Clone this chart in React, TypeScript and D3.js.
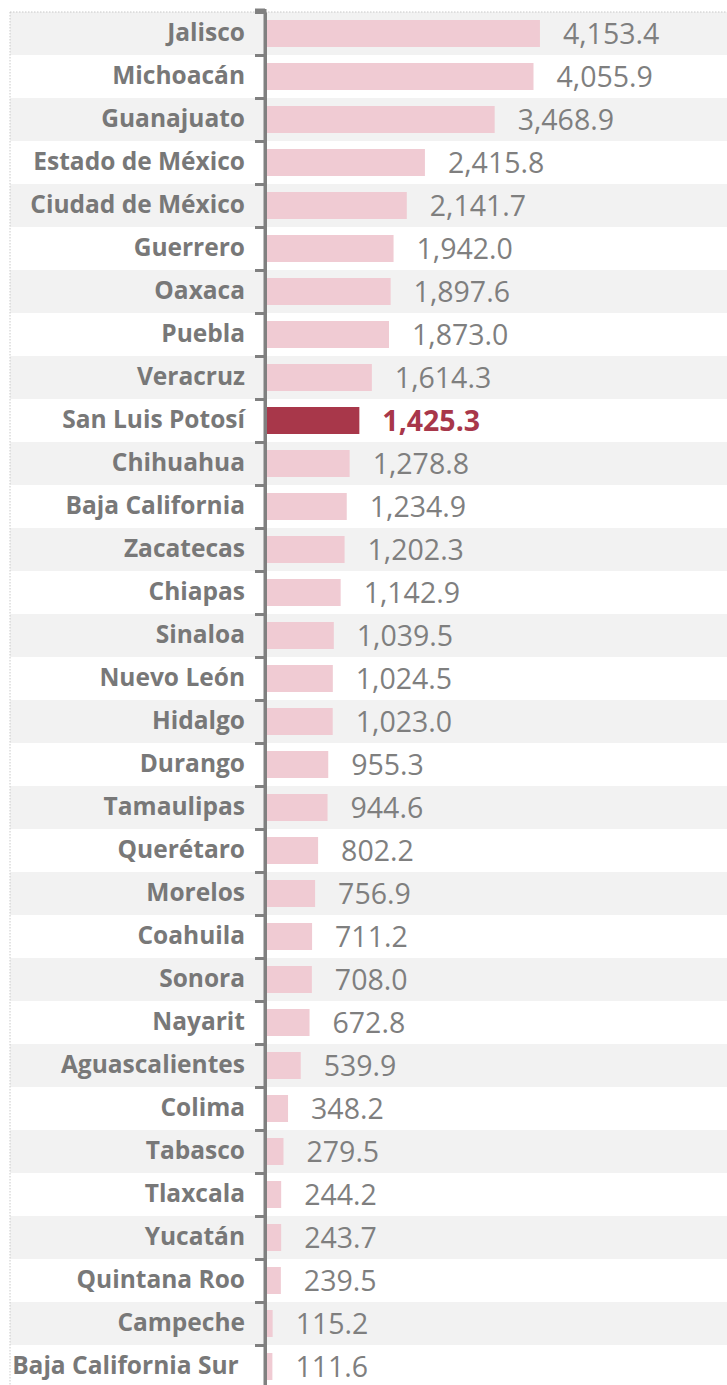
import React, { useEffect, useRef } from "react";
import * as d3 from "d3";

const estados = [
  "Jalisco", "Michoacán", "Guanajuato", "Estado de México", "Ciudad de México",
  "Guerrero", "Oaxaca", "Puebla", "Veracruz", "San Luis Potosí", "Chihuahua",
  "Baja California", "Zacatecas", "Chiapas", "Sinaloa", "Nuevo León", "Hidalgo",
  "Durango", "Tamaulipas", "Querétaro", "Morelos", "Coahuila", "Sonora", "Nayarit",
  "Aguascalientes", "Colima", "Tabasco", "Tlaxcala", "Yucatán", "Quintana Roo",
  "Campeche", "Baja California Sur ",
];

const valores = [
  4153.4, 4055.9, 3468.9, 2415.8, 2141.7, 1942.0, 1897.6, 1873.0, 1614.3, 1425.3,
  1278.8, 1234.9, 1202.3, 1142.9, 1039.5, 1024.5, 1023.0, 955.3, 944.6, 802.2,
  756.9, 711.2, 708.0, 672.8, 539.9, 348.2, 279.5, 244.2, 243.7, 239.5, 115.2, 111.6,
];

const destacado = "San Luis Potosí";

function App() {
  const axisRef = useRef<SVGGElement>(null);

  const width = 727;
  const height = 1385;
  const top = 12;
  const rowH = 43;
  const axisX = 265;
  const fontFam = "'Open Sans', Lato, sans-serif";

  const y = d3.scaleBand<string>()
    .domain(estados)
    .range([top, top + rowH * estados.length])
    .padding(0);

  const x = d3.scaleLinear()
    .domain([0, 7000])
    .range([axisX, axisX + 7000 * 0.0662]);

  const barH = 27;
  const fmt = d3.format(",.1f");

  useEffect(() => {
    const yLin = d3.scaleLinear()
      .domain([0, estados.length])
      .range([top, top + rowH * estados.length]);
    const g = d3.select(axisRef.current);
    g.selectAll("*").remove();
    g.call(
      d3.axisLeft(yLin)
        .tickValues(d3.range(0, estados.length + 1))
        .tickFormat(() => "")
        .tickSize(10)
        .tickSizeOuter(0)
    );
    g.select(".domain").attr("stroke", "#808080").attr("stroke-width", 3);
    g.selectAll(".tick line").attr("stroke", "#808080").attr("stroke-width", 3);
  }, []);

  return (
    <svg width={width} height={height} style={{ position: "absolute", left: 0, top: 0 }}>
      {/* bandas alternas */}
      {estados.map((d, i) =>
        i % 2 === 0 ? (
          <rect key={"b" + d} x={10} y={y(d)} width={width - 10} height={rowH} fill="#f2f2f2" />
        ) : null
      )}
      <line x1={10} x2={width} y1={top} y2={top} stroke="#c8c8c8" strokeDasharray="1.5,1.5" />
      <line x1={10} x2={10} y1={top} y2={height} stroke="#c8c8c8" strokeDasharray="1.5,1.5" />

      {estados.map((d, i) => {
        const hl = d === destacado;
        const yc = (y(d) as number) + rowH / 2;
        return (
          <g key={d}>
            <rect
              x={x(0)}
              y={yc - barH / 2}
              width={x(valores[i]) - x(0)}
              height={barH}
              fill={hl ? "#a8374a" : "#f0cbd3"}
            />
            <text
              x={245}
              y={yc}
              dy="0.29em"
              textAnchor="end"
              fontFamily={fontFam}
              fontWeight="bold"
              fontSize={24.5}
              fill="#787878"
              style={{ whiteSpace: "pre" }}
            >
              {d}
            </text>
            <text
              x={x(valores[i]) + 23}
              y={yc}
              dy="0.37em"
              fontFamily={fontFam}
              fontWeight={hl ? "bold" : "normal"}
              fontSize={28.5}
              fill={hl ? "#a8374a" : "#7f7f7f"}
            >
              {fmt(valores[i])}
            </text>
          </g>
        );
      })}

      <g ref={axisRef} transform={`translate(${axisX},0)`} />
      <line x1={axisX} x2={axisX} y1={9} y2={height} stroke="#808080" strokeWidth={3} />
      <line x1={axisX - 10} x2={axisX} y1={10} y2={10} stroke="#808080" strokeWidth={3} />
    </svg>
  );
}

export default App;
